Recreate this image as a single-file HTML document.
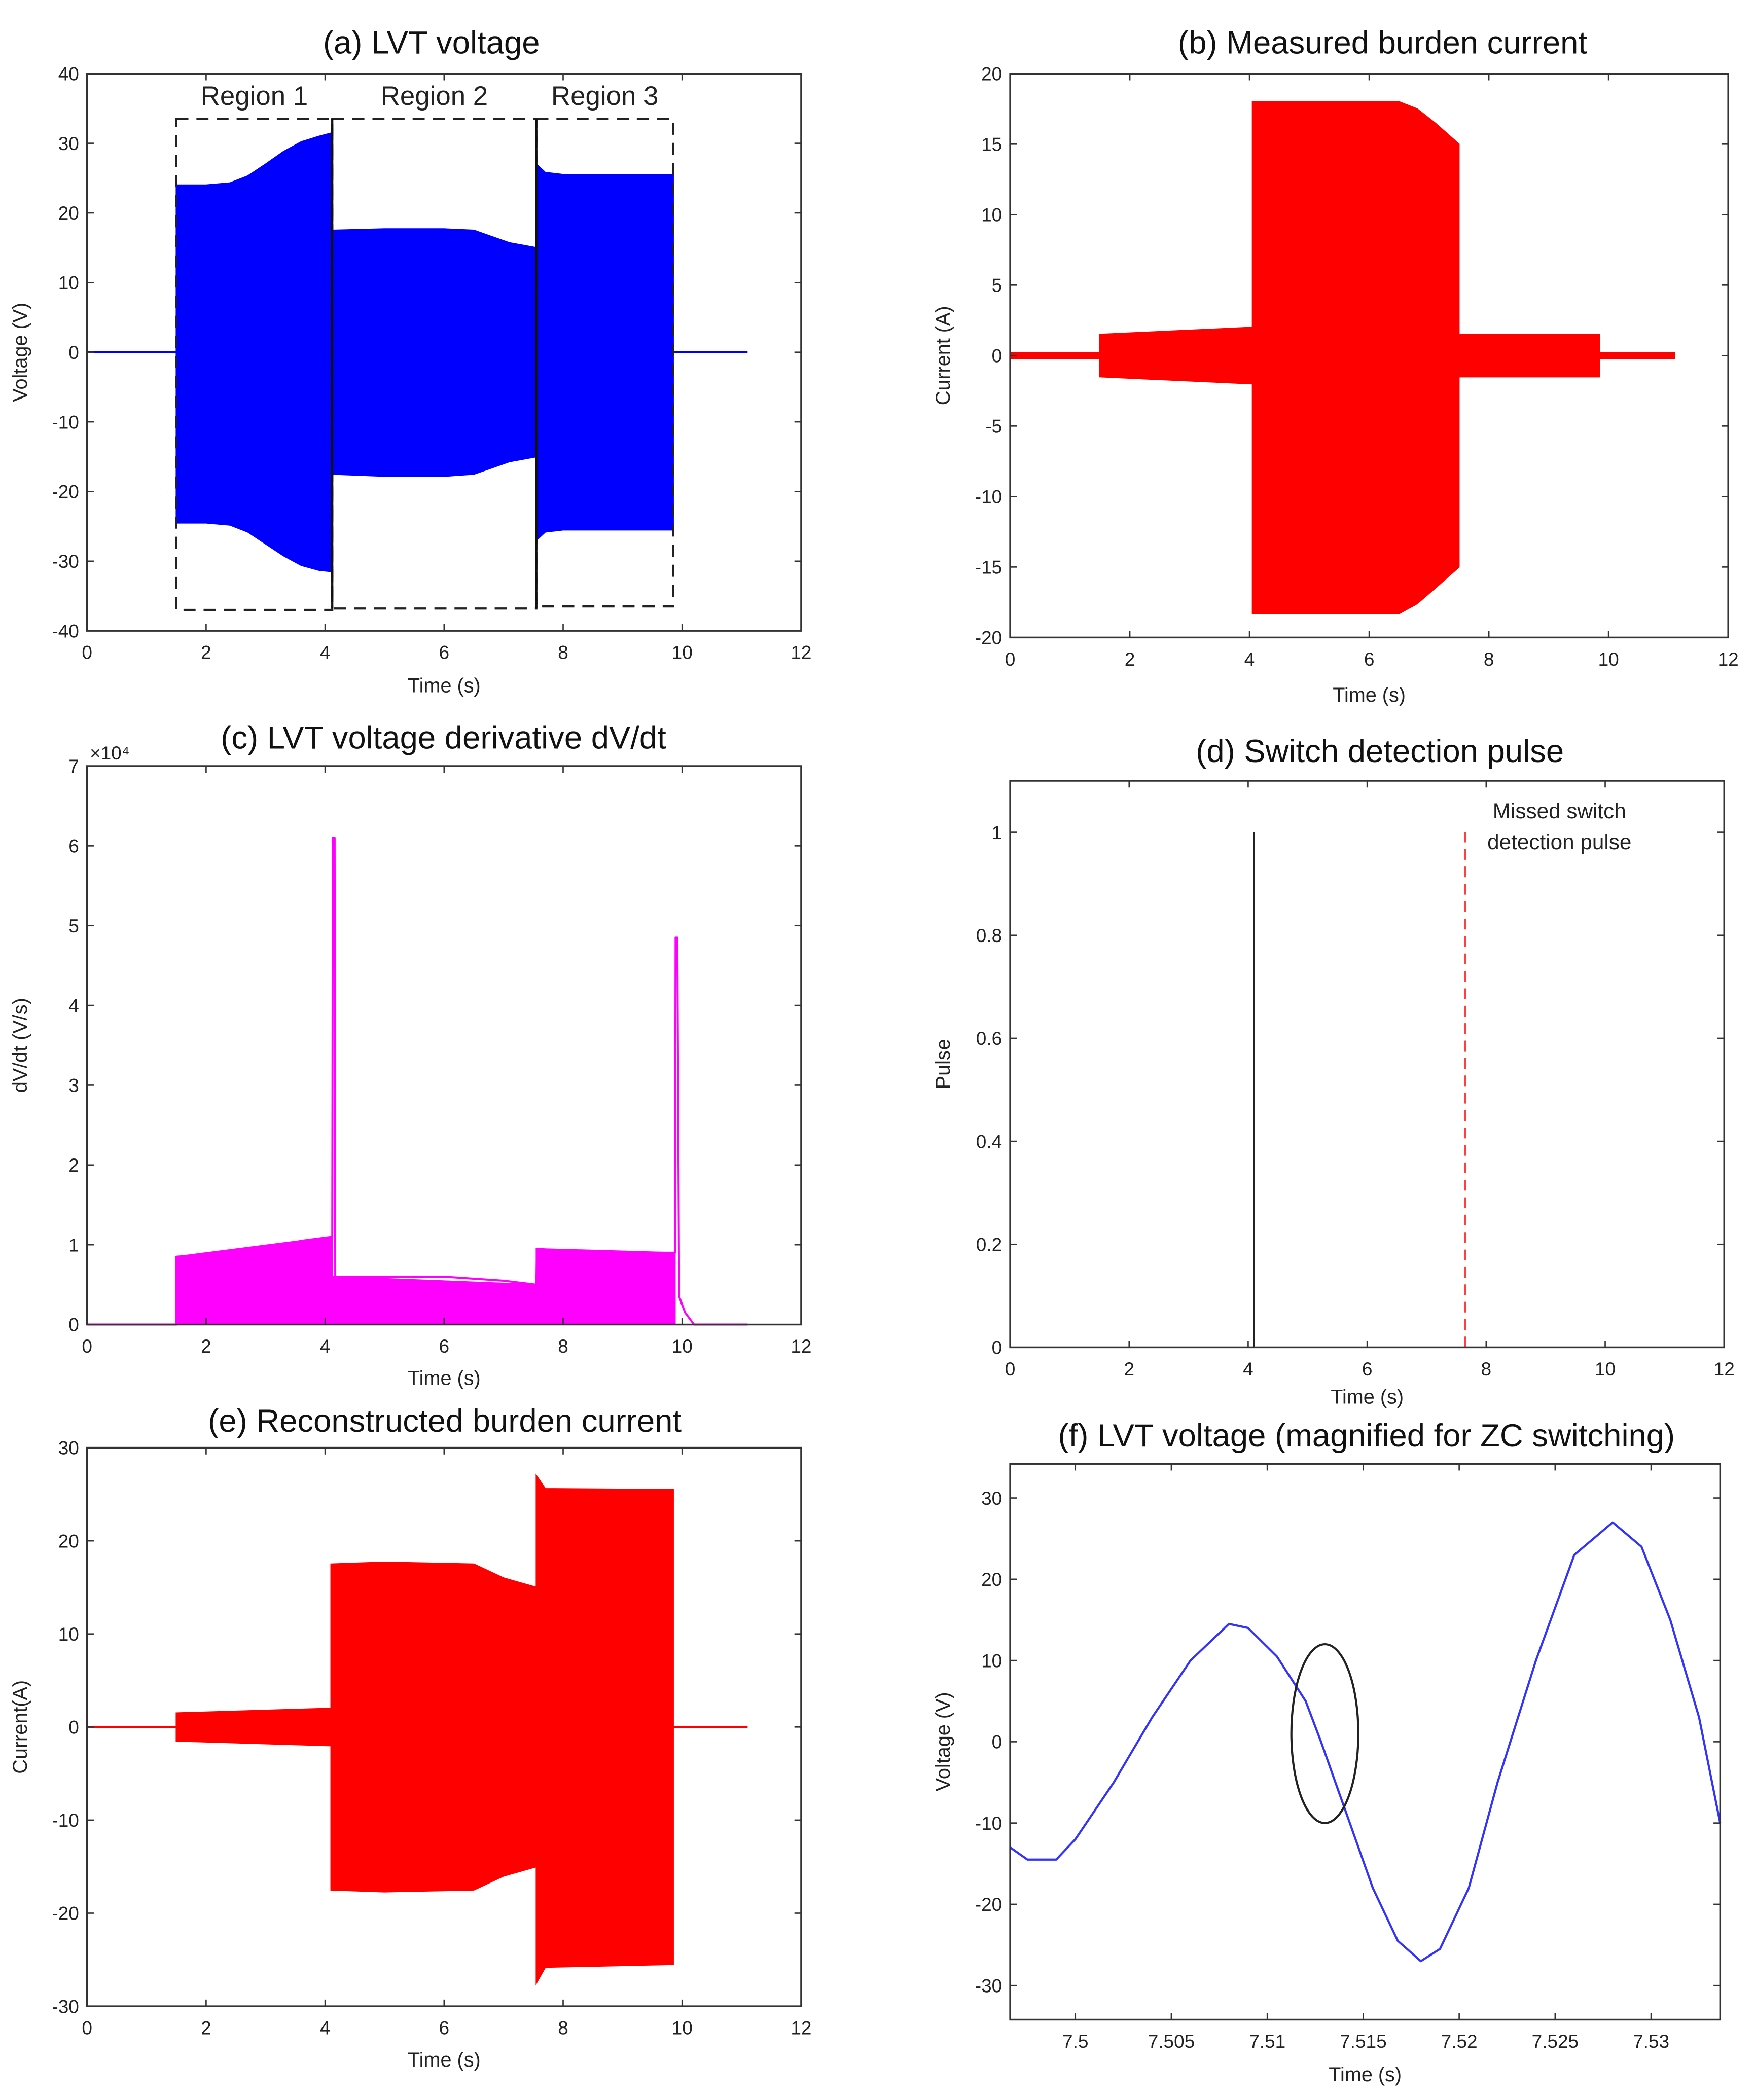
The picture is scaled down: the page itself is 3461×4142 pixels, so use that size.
<!DOCTYPE html>
<html><head><meta charset="utf-8"><style>
html,body{margin:0;padding:0;background:#fff}
svg{display:block}
text{font-family:"Liberation Sans",sans-serif;fill:#222}
.t{font-size:24px;fill:#111}
.k{font-size:14px}
.l{font-size:15px}
</style></head><body>
<svg id="s" width="3461" height="4142" viewBox="0 0 1310 1568" preserveAspectRatio="none" xmlns="http://www.w3.org/2000/svg"></svg>
<script>
// ---- data ----
// (a) LVT voltage envelopes
const aT1=[1.5,2.0,2.4,2.7,3.0,3.3,3.6,3.9,4.12], aU1=[24,24,24.3,25.3,27,28.8,30.2,31,31.5], aL1=[-24.5,-24.5,-24.8,-25.8,-27.5,-29.2,-30.6,-31.3,-31.5];
const aT2=[4.12,5,6,6.5,6.8,7.1,7.55], aU2=[17.5,17.7,17.7,17.5,16.6,15.7,15], aL2=[-17.5,-17.8,-17.8,-17.5,-16.6,-15.7,-15];
const aT3=[7.55,7.7,8,9,9.85], aU3=[27,25.8,25.5,25.5,25.5], aL3=[-27,-25.8,-25.5,-25.5,-25.5];
const aRegions=["Region 1","Region 2","Region 3"], aRegX=[[1.5,4.12],[4.12,7.55],[7.55,9.85]];
// (b) measured burden current
const bT=[0,1.5,1.5,4.05,4.05,6.5,6.8,7.1,7.5,7.5,9.85,9.85,11.1];
const bU=[0.2,0.2,1.5,2,18,18,17.5,16.5,15,1.5,1.5,0.2,0.2];
const bL=[-0.2,-0.2,-1.5,-2,-18.3,-18.3,-17.6,-16.5,-15,-1.5,-1.5,-0.2,-0.2];
// (c) dV/dt (x1e4)
const cT=[0,1.5,1.5,2,3,3.6,4.12,4.13,4.16,4.17,5,6,7,7.55,7.56,8,9,9.88,9.89,9.92,9.95,10.05,10.2,11.1];
const cV=[0,0,0.85,0.88,0.95,1.05,1.1,6.1,6.1,0.6,0.6,0.6,0.55,0.5,0.95,0.92,0.9,0.9,4.85,4.85,0.35,0.15,0,0];
// (d) pulses
const dDetect=[4.1], dMissed=[7.65];
// (e) reconstructed current
const eT=[0,1.5,1.5,4.1,4.1,5,6.5,7.0,7.55,7.55,7.7,9.85,9.85,11.1];
const eU=[0,0,1.5,2,17.5,17.7,17.5,16,15,27,25.6,25.5,0,0];
const eL=[0,0,-1.5,-2,-17.5,-17.7,-17.5,-16,-15,-27.5,-25.8,-25.5,0,0];
// (f) magnified voltage
const fT=[7.4966,7.4975,7.499,7.5,7.502,7.504,7.506,7.508,7.509,7.5105,7.512,7.5128,7.514,7.5155,7.5168,7.518,7.519,7.5205,7.522,7.524,7.526,7.528,7.5295,7.531,7.5325,7.5336];
const fV=[-13,-14.5,-14.5,-12,-5,3,10,14.5,14,10.5,5,0,-8,-18,-24.5,-27,-25.5,-18,-5,10,23,27,24,15,3,-10];

const S=document.getElementById('s'), NS="http://www.w3.org/2000/svg";
function el(tag,attrs,txt){const e=document.createElementNS(NS,tag);for(const k in attrs)e.setAttribute(k,attrs[k]);if(txt!==undefined)e.textContent=txt;S.appendChild(e);return e;}
function axis(x0,x1,y0,y1,xmin,xmax,ymin,ymax){return{x:v=>x0+(v-xmin)/(xmax-xmin)*(x1-x0),y:v=>y1-(v-ymin)/(ymax-ymin)*(y1-y0),x0,x1,y0,y1};}
function frame(A,name,title,tx,ty,xt,xl,yt,yl,xlab,ylab,xlabY){
  let r=el('rect',{x:A.x0,y:A.y0,width:A.x1-A.x0,height:A.y1-A.y0,fill:'none',stroke:'#333','stroke-width':1.3});
  
  xt.forEach((v,i)=>{const X=A.x(v);
    el('line',{x1:X,x2:X,y1:A.y1,y2:A.y1-5,stroke:'#333'});el('line',{x1:X,x2:X,y1:A.y0,y2:A.y0+5,stroke:'#333'});
    let t=el('text',{x:X,y:A.y1+21,'text-anchor':'middle',class:'k'},xl[i]);});
  yt.forEach((v,i)=>{const Y=A.y(v);
    el('line',{x1:A.x0,x2:A.x0+5,y1:Y,y2:Y,stroke:'#333'});el('line',{x1:A.x1,x2:A.x1-5,y1:Y,y2:Y,stroke:'#333'});
    let t=el('text',{x:A.x0-6,y:Y+5,'text-anchor':'end',class:'k'},yl[i]);});
  let t=el('text',{x:tx,y:ty,'text-anchor':'middle',class:'t'},title);
  t=el('text',{x:(A.x0+A.x1)/2,y:xlabY,'text-anchor':'middle',class:'l'},xlab);
  const cy=(A.y0+A.y1)/2;
  t=el('text',{x:A.x0-45,y:cy,'text-anchor':'middle',class:'l',transform:`rotate(-90 ${A.x0-45} ${cy})`},ylab);
}
function band(A,T,U,L,color,name){let p='';T.forEach((t,i)=>p+=(i?'L':'M')+A.x(t)+','+A.y(U[i]));for(let i=T.length-1;i>=0;i--)p+='L'+A.x(T[i])+','+A.y(L[i]);
  const e=el('path',{d:p+'Z',fill:color,stroke:color,'stroke-width':1});}
function line(A,T,V,color,name,w){let p='';T.forEach((t,i)=>p+=(i?'L':'M')+A.x(t)+','+A.y(V[i]));
  const e=el('path',{d:p,fill:'none',stroke:color,'stroke-width':w||1.3,'stroke-linejoin':'round'});}
const x12=[0,2,4,6,8,10,12], x12l=x12.map(String);

// (a)
let A=axis(65,598,55,471,0,12,-40,40);
line(A,[0,1.5],[0,0],'#0000ff','a-zero-line-left');line(A,[9.85,11.1],[0,0],'#0000ff','a-zero-line-right');
band(A,aT1,aU1,aL1,'#0000ff','a-region1-signal');band(A,aT2,aU2,aL2,'#0000ff','a-region2-signal');band(A,aT3,aU3,aL3,'#0000ff','a-region3-signal');
aRegX.forEach((r,i)=>{const bot=[-37,-36.8,-36.5][i];
  let e=el('rect',{x:A.x(r[0]),y:A.y(33.5),width:A.x(r[1])-A.x(r[0]),height:A.y(bot)-A.y(33.5),fill:'none',stroke:'#222','stroke-width':1.6,'stroke-dasharray':'9,6'});
  
  e=el('text',{x:A.x((r[0]+r[1])/2),y:A.y(35.5),'text-anchor':'middle',style:'font-size:20px'},aRegions[i]);
  });
[4.12,7.55].forEach(v=>el('line',{x1:A.x(v),x2:A.x(v),y1:A.y(33.5),y2:A.y(-36.8),stroke:'#111','stroke-width':1.6}));
frame(A,'a','(a) LVT voltage',322,40,x12,x12l,[-40,-30,-20,-10,0,10,20,30,40],['-40','-30','-20','-10','0','10','20','30','40'],'Time (s)','Voltage (V)',517);

// (b)
A=axis(754,1290,55,476,0,12,-20,20);
band(A,bT,bU,bL,'#ff0000','b-current-signal');
frame(A,'b','(b) Measured burden current',1032,40,x12,x12l,[-20,-15,-10,-5,0,5,10,15,20],['-20','-15','-10','-5','0','5','10','15','20'],'Time (s)','Current (A)',524);

// (c)
A=axis(65,598,572,989,0,12,0,7);
band(A,[1.5,4.12],[0.85,1.1],[0,0],'#ff00ff','c-region1-fill');band(A,[4.16,7.55],[0.6,0.5],[0,0],'#ff00ff','c-region2-fill');band(A,[7.55,9.88],[0.95,0.9],[0,0],'#ff00ff','c-region3-fill');
band(A,[4.12,4.17],[0.6,0.6],[0,0],'#ff00ff','c-gap-fill');
line(A,cT,cV,'#ff00ff','c-derivative-line',1.5);
frame(A,'c','(c) LVT voltage derivative dV/dt',331,559,x12,x12l,[0,1,2,3,4,5,6,7],['0','1','2','3','4','5','6','7'],'Time (s)','dV/dt (V/s)',1034);
el('text',{x:67,y:567,class:'k'},'×10⁴');

// (d)
A=axis(754,1287,583,1006,0,12,0,1.1);
dDetect.forEach(v=>{const e=el('line',{x1:A.x(v),x2:A.x(v),y1:A.y(0),y2:A.y(1),stroke:'#222','stroke-width':1.3});});
dMissed.forEach(v=>{const e=el('line',{x1:A.x(v),x2:A.x(v),y1:A.y(0),y2:A.y(1),stroke:'#ff4040','stroke-width':1.6,'stroke-dasharray':'8,5'});});
let e=el('text',{x:1164,y:611,'text-anchor':'middle',style:'font-size:16px'},'Missed switch');
el('text',{x:1164,y:634,'text-anchor':'middle',style:'font-size:16px'},'detection pulse');
frame(A,'d','(d) Switch detection pulse',1030,569,x12,x12l,[0,0.2,0.4,0.6,0.8,1],['0','0.2','0.4','0.6','0.8','1'],'Time (s)','Pulse',1048);

// (e)
A=axis(65,598,1081,1498,0,12,-30,30);
band(A,eT,eU,eL,'#ff0000','e-current-signal');
line(A,[0,1.5],[0,0],'#ff0000','e-zero-left');line(A,[9.85,11.1],[0,0],'#ff0000','e-zero-right');
frame(A,'e','(e) Reconstructed burden current',332,1069,x12,x12l,[-30,-20,-10,0,10,20,30],['-30','-20','-10','0','10','20','30'],'Time (s)','Current(A)',1543);

// (f)
A=axis(754,1284,1093,1508,7.4966,7.5336,-34.2,34.2);
line(A,fT,fV,'#3333ff','f-voltage-line',1.6);
e=el('ellipse',{cx:A.x(7.513),cy:A.y(1),rx:25,ry:(A.y(-10)-A.y(12))/2,fill:'none',stroke:'#222','stroke-width':1.6});
const fx=[7.5,7.505,7.51,7.515,7.52,7.525,7.53];
frame(A,'f','(f) LVT voltage (magnified for ZC switching)',1020,1080,fx,['7.5','7.505','7.51','7.515','7.52','7.525','7.53'],[-30,-20,-10,0,10,20,30],['-30','-20','-10','0','10','20','30'],'Time (s)','Voltage (V)',1554);
</script>
</body></html>
